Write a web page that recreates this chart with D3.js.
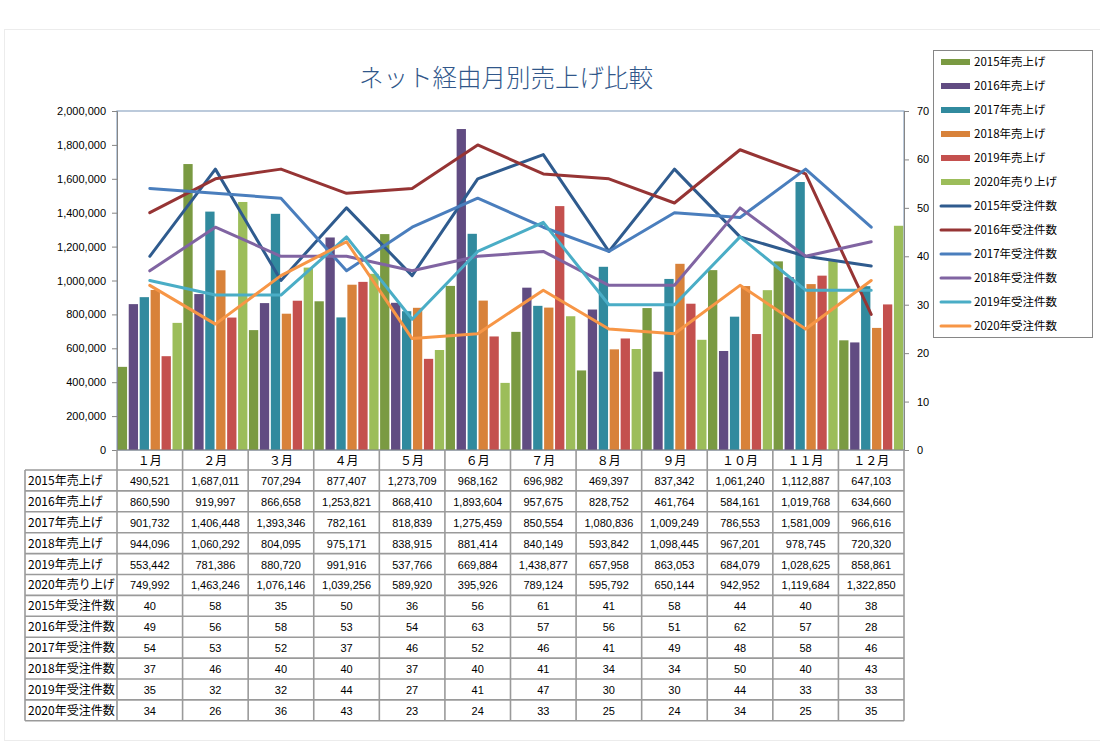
<!DOCTYPE html>
<html><head><meta charset="utf-8">
<script src="https://cdn.jsdelivr.net/npm/d3@7/dist/d3.min.js"></script>
<style>
body{margin:0;background:#fff;}
text{font-family:"Liberation Sans","Noto Sans CJK JP",sans-serif;}
</style></head>
<body>
<svg id="c" width="1100" height="746"></svg>
<script>
const months = ["１月","２月","３月","４月","５月","６月","７月","８月","９月","１０月","１１月","１２月"];
const salesNames = ["2015年売上げ","2016年売上げ","2017年売上げ","2018年売上げ","2019年売上げ","2020年売り上げ"];
const sales2015 = [490521,1687011,707294,877407,1273709,968162,696982,469397,837342,1061240,1112887,647103];
const sales2016 = [860590,919997,866658,1253821,868410,1893604,957675,828752,461764,584161,1019768,634660];
const sales2017 = [901732,1406448,1393346,782161,818839,1275459,850554,1080836,1009249,786553,1581009,966616];
const sales2018 = [944096,1060292,804095,975171,838915,881414,840149,593842,1098445,967201,978745,720320];
const sales2019 = [553442,781386,880720,991916,537766,669884,1438877,657958,863053,684079,1028625,858861];
const sales2020 = [749992,1463246,1076146,1039256,589920,395926,789124,595792,650144,942952,1119684,1322850];
const orderNames = ["2015年受注件数","2016年受注件数","2017年受注件数","2018年受注件数","2019年受注件数","2020年受注件数"];
const orders2015 = [40,58,35,50,36,56,61,41,58,44,40,38];
const orders2016 = [49,56,58,53,54,63,57,56,51,62,57,28];
const orders2017 = [54,53,52,37,46,52,46,41,49,48,58,46];
const orders2018 = [37,46,40,40,37,40,41,34,34,50,40,43];
const orders2019 = [35,32,32,44,27,41,47,30,30,44,33,33];
const orders2020 = [34,26,36,43,23,24,33,25,24,34,25,35];
const leftTicks = [0,200000,400000,600000,800000,1000000,1200000,1400000,1600000,1800000,2000000];
const rightTicks = [0,10,20,30,40,50,60,70];

const salesSeries = [sales2015,sales2016,sales2017,sales2018,sales2019,sales2020];
const orderSeries = [orders2015,orders2016,orders2017,orders2018,orders2019,orders2020];
const barColors = ["#7a9a42","#614c82","#318a9e","#d8823a","#c4504e","#9cbd5a"];
const lineColors = ["#2f5b8e","#963434","#4a7ebd","#8064a2","#4aadc6","#f79646"];

const svg = d3.select("#c");
const L=117, R=904, T=111, B=450;

// outer faint frame
svg.append("rect").attr("x",4.5).attr("y",29.5).attr("width",1100).attr("height",711)
  .attr("fill","none").attr("stroke","#ececec");

svg.append("text").attr("x",506).attr("y",87).attr("text-anchor","middle")
  .attr("font-size",24.5).attr("fill","#31578a")
  .style("font-family","'Noto Sans CJK JP',sans-serif").style("font-weight",300)
  .text("ネット経由月別売上げ比較");

const x = d3.scaleBand().domain(months).range([L,R]).padding(0);
const y = d3.scaleLinear().domain([0,2000000]).range([B,T]);
const y2 = d3.scaleLinear().domain([0,70]).range([B,T]);
const xs = d3.scaleBand().domain(d3.range(6)).range([0,x.bandwidth()]).paddingInner(0.15).paddingOuter(0.07);

// plot border
svg.append("rect").attr("x",L).attr("y",T).attr("width",R-L).attr("height",B-T)
  .attr("fill","none").attr("stroke","#8fa7c4").attr("stroke-width",1.2);

// bars
salesSeries.forEach((s,i)=>{
  svg.append("g").selectAll("rect").data(s).join("rect")
    .attr("x",(d,j)=>x(months[j])+xs(i)).attr("width",xs.bandwidth())
    .attr("y",d=>y(d)).attr("height",d=>B-y(d)).attr("fill",barColors[i]);
});

// axes
const fmt = d3.format(",");
const ax = svg.append("g").attr("transform",`translate(${L},0)`)
  .call(d3.axisLeft(y).tickValues(leftTicks).tickFormat(fmt).tickSize(5).tickPadding(6));
ax.select(".domain").attr("stroke","#868686");
ax.selectAll(".tick line").attr("stroke","#868686");
ax.selectAll("text").attr("font-size",11).attr("fill","#000").style("font-family","'Liberation Sans',sans-serif");

const ax2 = svg.append("g").attr("transform",`translate(${R},0)`)
  .call(d3.axisRight(y2).tickValues(rightTicks).tickSize(5).tickPadding(8));
ax2.select(".domain").attr("stroke","#868686");
ax2.selectAll(".tick line").attr("stroke","#868686");
ax2.selectAll("text").attr("font-size",11).attr("fill","#000").style("font-family","'Liberation Sans',sans-serif");

// lines
const line = d3.line().x((d,j)=>x(months[j])+x.bandwidth()/2).y(d=>y2(d));
orderSeries.forEach((s,i)=>{
  svg.append("path").datum(s).attr("d",line).attr("fill","none")
    .attr("stroke",lineColors[i]).attr("stroke-width",3).attr("stroke-linejoin","round").attr("stroke-linecap","round");
});

// x axis line
svg.append("line").attr("x1",L).attr("x2",R).attr("y1",B).attr("y2",B).attr("stroke","#868686");

// data table
const tbl = svg.append("g");
const rowH = 20.9, headTop = B, headH = 20, tLeft = 25;
const rowLabels = salesNames.concat(orderNames);
const rowData = salesSeries.concat(orderSeries);
const nRows = rowLabels.length;
const tTop = headTop + headH;
const tBottom = tTop + nRows*rowH;
const gridCol = "#9a9a9a";
tbl.selectAll("text.m").data(months).join("text").attr("class","m")
  .attr("x",d=>x(d)+x.bandwidth()/2).attr("y",headTop+headH/2+4.5)
  .attr("text-anchor","middle").attr("font-size",12)
  .style("font-family","'Noto Sans CJK JP',sans-serif").text(d=>d);
const vx = months.map(m=>x(m)).concat([R]);
vx.forEach(v=>{
  tbl.append("line").attr("x1",v).attr("x2",v).attr("y1",headTop).attr("y2",tBottom)
    .attr("stroke",gridCol).attr("stroke-width",1.6);
});
tbl.append("line").attr("x1",tLeft).attr("x2",tLeft).attr("y1",tTop).attr("y2",tBottom)
  .attr("stroke",gridCol).attr("stroke-width",1.6);
d3.range(nRows+1).forEach(r=>{
  tbl.append("line").attr("x1",tLeft).attr("x2",R).attr("y1",tTop+r*rowH).attr("y2",tTop+r*rowH)
    .attr("stroke",gridCol).attr("stroke-width",1.6);
});
rowLabels.forEach((lab,r)=>{
  const cy = tTop + r*rowH + rowH/2 + 4.5;
  tbl.append("text").attr("x",tLeft+3).attr("y",cy).attr("font-size",12)
    .style("font-family","'Noto Sans CJK JP',sans-serif").text(lab);
  tbl.append("g").selectAll("text").data(rowData[r]).join("text")
    .attr("x",(d,j)=>x(months[j])+x.bandwidth()/2).attr("y",cy)
    .attr("text-anchor","middle").attr("font-size",11).text(d=>fmt(d));
});

// legend
const lg = svg.append("g");
lg.append("rect").attr("x",933.5).attr("y",50.5).attr("width",159).attr("height",287)
  .attr("fill","#fff").attr("stroke","#868686");
salesNames.concat(orderNames).forEach((n,i)=>{
  const yy = 62 + i*24;
  if(i<6){
    lg.append("rect").attr("x",941).attr("y",yy-3).attr("width",29).attr("height",6).attr("fill",barColors[i]);
  } else {
    lg.append("line").attr("x1",941).attr("x2",970).attr("y1",yy).attr("y2",yy)
      .attr("stroke",lineColors[i-6]).attr("stroke-width",3).attr("stroke-linecap","round");
  }
  lg.append("text").attr("x",974).attr("y",yy+4).attr("font-size",11.5)
    .style("font-family","'Noto Sans CJK JP',sans-serif").text(n);
});
</script>
</body></html>
